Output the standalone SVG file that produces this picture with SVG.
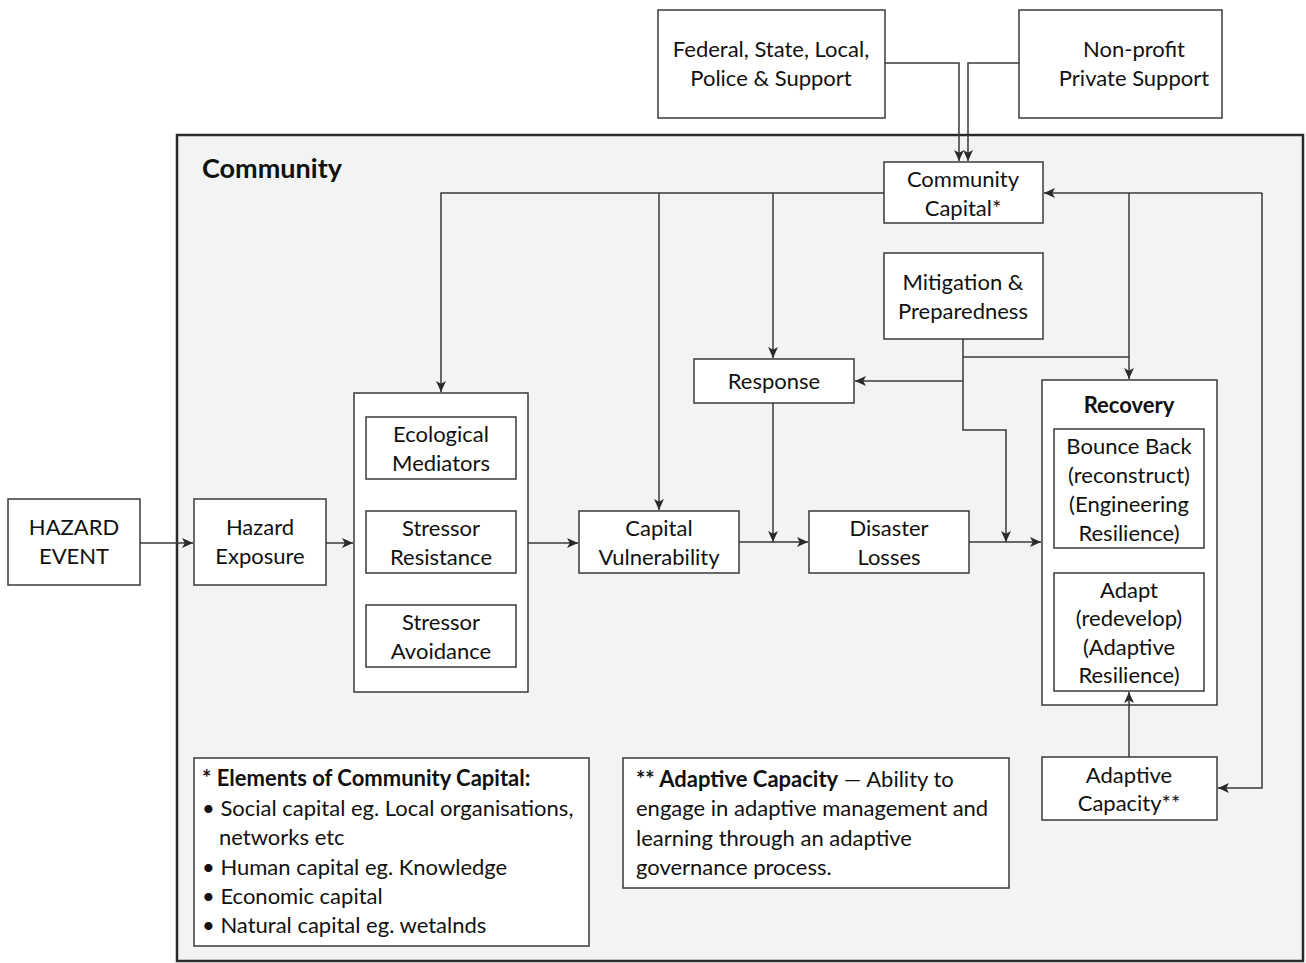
<svg xmlns="http://www.w3.org/2000/svg" width="1306" height="963" viewBox="0 0 1306 963">
<defs>
<style>
.box{fill:#fff;stroke:#3a3a3a;stroke-width:1.5}
.t{font-family:Lato,"Open Sans","Liberation Sans",sans-serif;font-size:22px;fill:#111;text-anchor:middle}
.l{font-family:Lato,"Open Sans","Liberation Sans",sans-serif;font-size:22px;fill:#111}
.b{font-weight:bold}
.c{fill:none;stroke:#3a3a3a;stroke-width:1.5}
</style>
<marker id="ah" viewBox="0 0 10 10" refX="10" refY="5" markerWidth="11" markerHeight="11" markerUnits="userSpaceOnUse" orient="auto">
<path d="M0,0.5 L10,5 L0,9.5 L2.5,5 z" fill="#2a2a2a"/>
</marker>
</defs>
<rect width="1306" height="963" fill="#fff"/>
<g id="community">
<rect x="177" y="135" width="1126" height="826" fill="#f2f3f3" stroke="#2a2a2a" stroke-width="2.5"/>
<text class="l b" x="202" y="178" style="font-size:27px">Community</text>
</g>
<g id="federal">
<rect class="box" x="658" y="10" width="227" height="108"/>
<text class="t" x="771" y="57">Federal, State, Local,</text>
<text class="t" x="771" y="86">Police &amp; Support</text>
</g>
<g id="nonprofit">
<rect class="box" x="1019" y="10" width="203" height="108"/>
<text class="t" x="1134" y="57">Non-profit</text>
<text class="t" x="1134" y="86">Private Support</text>
</g>
<g id="community-capital">
<rect class="box" x="884" y="162" width="159" height="61"/>
<text class="t" x="963" y="187">Community</text>
<text class="t" x="963" y="216">Capital*</text>
</g>
<g id="mitigation">
<rect class="box" x="884" y="253" width="159" height="86"/>
<text class="t" x="963" y="290">Mitigation &amp;</text>
<text class="t" x="963" y="319">Preparedness</text>
</g>
<g id="response">
<rect class="box" x="694" y="359" width="160" height="44"/>
<text class="t" x="774" y="389">Response</text>
</g>
<g id="hazard-event">
<rect class="box" x="8" y="499" width="132" height="86"/>
<text class="t" x="74" y="535">HAZARD</text>
<text class="t" x="74" y="564">EVENT</text>
</g>
<g id="hazard-exposure">
<rect class="box" x="194" y="499" width="132" height="86"/>
<text class="t" x="260" y="535">Hazard</text>
<text class="t" x="260" y="564">Exposure</text>
</g>
<g id="stressor-group">
<rect class="box" x="354" y="393" width="174" height="299"/>
<g id="ecological">
<rect class="box" x="366" y="417" width="150" height="62"/>
<text class="t" x="441" y="442">Ecological</text>
<text class="t" x="441" y="471">Mediators</text>
</g>
<g id="resistance">
<rect class="box" x="366" y="511" width="150" height="62"/>
<text class="t" x="441" y="536">Stressor</text>
<text class="t" x="441" y="565">Resistance</text>
</g>
<g id="avoidance">
<rect class="box" x="366" y="605" width="150" height="62"/>
<text class="t" x="441" y="630">Stressor</text>
<text class="t" x="441" y="659">Avoidance</text>
</g>
</g>
<g id="capital-vulnerability">
<rect class="box" x="579" y="511" width="160" height="62"/>
<text class="t" x="659" y="536">Capital</text>
<text class="t" x="659" y="565">Vulnerability</text>
</g>
<g id="disaster-losses">
<rect class="box" x="809" y="511" width="160" height="62"/>
<text class="t" x="889" y="536">Disaster</text>
<text class="t" x="889" y="565">Losses</text>
</g>
<g id="recovery">
<rect class="box" x="1042" y="380" width="175" height="325"/>
<text class="t b" x="1129" y="413">Recovery</text>
<g id="bounce-back">
<rect class="box" x="1054" y="429" width="150" height="119"/>
<text class="t" x="1129" y="454">Bounce Back</text>
<text class="t" x="1129" y="483">(reconstruct)</text>
<text class="t" x="1129" y="512">(Engineering</text>
<text class="t" x="1129" y="541">Resilience)</text>
</g>
<g id="adapt">
<rect class="box" x="1054" y="573" width="150" height="118"/>
<text class="t" x="1129" y="598">Adapt</text>
<text class="t" x="1129" y="626">(redevelop)</text>
<text class="t" x="1129" y="655">(Adaptive</text>
<text class="t" x="1129" y="683">Resilience)</text>
</g>
</g>
<g id="adaptive-capacity">
<rect class="box" x="1042" y="757" width="175" height="63"/>
<text class="t" x="1129" y="783">Adaptive</text>
<text class="t" x="1129" y="811">Capacity**</text>
</g>
<g id="legend-capital">
<rect class="box" x="194" y="758" width="395" height="188"/>
<text class="l" x="202" y="786"><tspan class="b">* Elements of Community Capital:</tspan></text>
<text class="l" x="202" y="816">• Social capital eg. Local organisations,</text>
<text class="l" x="219" y="845">networks etc</text>
<text class="l" x="202" y="875">• Human capital eg. Knowledge</text>
<text class="l" x="202" y="904">• Economic capital</text>
<text class="l" x="202" y="933">• Natural capital eg. wetalnds</text>
</g>
<g id="legend-adaptive">
<rect class="box" x="623" y="758" width="386" height="130"/>
<text class="l" x="636" y="787"><tspan class="b">** Adaptive Capacity</tspan> — Ability to</text>
<text class="l" x="636" y="816">engage in adaptive management and</text>
<text class="l" x="636" y="846">learning through an adaptive</text>
<text class="l" x="636" y="875">governance process.</text>
</g>
<g id="connectors">
<path class="c" d="M885,63 H959 V161" marker-end="url(#ah)"/>
<path class="c" d="M1019,63 H968 V161" marker-end="url(#ah)"/>
<path class="c" d="M884,193 H441 V392" marker-end="url(#ah)"/>
<path class="c" d="M659,193 V510" marker-end="url(#ah)"/>
<path class="c" d="M773,193 V358" marker-end="url(#ah)"/>
<path class="c" d="M1262,193 H1044" marker-end="url(#ah)"/>
<path class="c" d="M1129,193 V379" marker-end="url(#ah)"/>
<path class="c" d="M1262,193 V788 H1218" marker-end="url(#ah)"/>
<path class="c" d="M963,339 V430 H1006 V542" marker-end="url(#ah)"/>
<path class="c" d="M963,357 H1129"/>
<path class="c" d="M963,381 H855" marker-end="url(#ah)"/>
<path class="c" d="M140,543 H193" marker-end="url(#ah)"/>
<path class="c" d="M326,543 H353" marker-end="url(#ah)"/>
<path class="c" d="M528,543 H578" marker-end="url(#ah)"/>
<path class="c" d="M739,542 H808" marker-end="url(#ah)"/>
<path class="c" d="M773,403 V542" marker-end="url(#ah)"/>
<path class="c" d="M969,542 H1041" marker-end="url(#ah)"/>
<path class="c" d="M1129,757 V692" marker-end="url(#ah)"/>
</g>
</svg>
